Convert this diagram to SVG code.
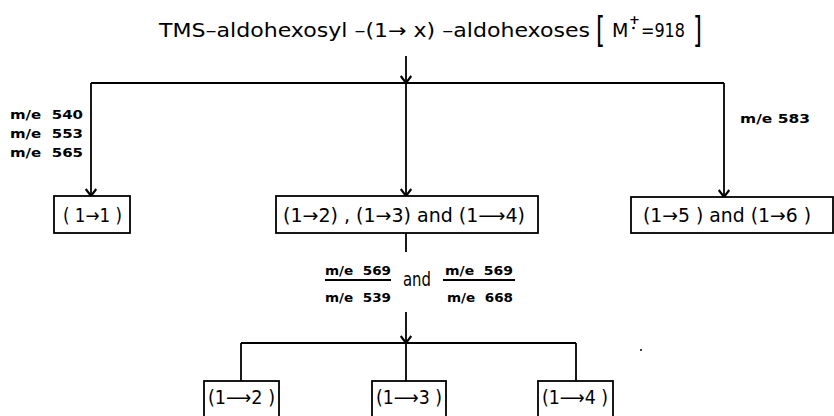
<svg xmlns="http://www.w3.org/2000/svg" width="834" height="416" viewBox="0 0 834 416">
<style>
text{font-family:"DejaVu Sans","Liberation Sans",sans-serif;fill:#000}
.t{font-size:19px}
.b{font-size:19px}
.m{font-size:13px;font-weight:bold;white-space:pre}
.br{font-size:36px}
.box{fill:#fff;stroke:#000;stroke-width:1.8}
.c{stroke:#000;stroke-width:1.8;fill:none}
</style>
<defs>
<marker id="ah" markerUnits="userSpaceOnUse" markerWidth="14" markerHeight="14" viewBox="-8 -6 10 12" refX="0" refY="0" orient="auto" overflow="visible">
<path d="M-6,-4.5 L0,0 L-6,4.5" fill="none" stroke="#000" stroke-width="1.8"/>
</marker>
</defs>
<g id="title">
<text class="t" x="159" y="37" textLength="431" lengthAdjust="spacingAndGlyphs">TMS–aldohexosyl –(1→ x) –aldohexoses</text>
<text class="br" x="596" y="42" textLength="9" lengthAdjust="spacingAndGlyphs">[</text>
<text class="t" x="612" y="37">M<tspan x="629" dy="-13" style="font-size:13px;font-weight:bold">+</tspan><tspan x="641" dy="13" textLength="44" lengthAdjust="spacingAndGlyphs">=918</tspan></text>
<circle cx="633.5" cy="28" r="1.3" fill="#000"/>
<text class="br" x="693" y="42" textLength="9" lengthAdjust="spacingAndGlyphs">]</text>
</g>
<g id="connectors">
<line class="c" x1="406" y1="56" x2="406" y2="83" marker-end="url(#ah)"/>
<line class="c" x1="91" y1="83" x2="724" y2="83"/>
<line class="c" x1="91" y1="83" x2="91" y2="196" marker-end="url(#ah)"/>
<line class="c" x1="406" y1="83" x2="406" y2="196" marker-end="url(#ah)"/>
<line class="c" x1="724" y1="83" x2="724" y2="197" marker-end="url(#ah)"/>
<line class="c" x1="406" y1="233" x2="406" y2="252"/>
<line class="c" x1="406" y1="312" x2="406" y2="343" marker-end="url(#ah)"/>
<line class="c" x1="241" y1="343" x2="576" y2="343"/>
<line class="c" x1="241" y1="343" x2="241" y2="381"/>
<line class="c" x1="406" y1="343" x2="406" y2="381"/>
<line class="c" x1="576" y1="343" x2="576" y2="381"/>
</g>
<g id="labels">
<text class="m" x="10" y="119" xml:space="preserve" textLength="73" lengthAdjust="spacingAndGlyphs">m/e  540</text>
<text class="m" x="10" y="138" xml:space="preserve" textLength="73" lengthAdjust="spacingAndGlyphs">m/e  553</text>
<text class="m" x="10" y="157" xml:space="preserve" textLength="73" lengthAdjust="spacingAndGlyphs">m/e  565</text>
<text class="m" x="740" y="123" textLength="70" lengthAdjust="spacingAndGlyphs">m/e 583</text>
<text class="m" x="325" y="275" xml:space="preserve" textLength="66" lengthAdjust="spacingAndGlyphs">m/e  569</text>
<line class="c" x1="325" y1="280" x2="391" y2="280" stroke-width="1.4"/>
<text class="m" x="325" y="302" xml:space="preserve" textLength="66" lengthAdjust="spacingAndGlyphs">m/e  539</text>
<text class="b" x="403" y="286" textLength="28" lengthAdjust="spacingAndGlyphs">and</text>
<text class="m" x="445" y="275" xml:space="preserve" textLength="68" lengthAdjust="spacingAndGlyphs">m/e  569</text>
<line class="c" x1="443" y1="280" x2="515" y2="280" stroke-width="1.4"/>
<text class="m" x="447" y="302" xml:space="preserve" textLength="66" lengthAdjust="spacingAndGlyphs">m/e  668</text>
<circle cx="641" cy="350" r="1" fill="#000"/>
</g>
<g id="n11">
<rect class="box" x="54" y="196" width="76" height="37"/>
<text class="b" x="63" y="222" textLength="59" lengthAdjust="spacingAndGlyphs">( 1→1 )</text>
</g>
<g id="n234">
<rect class="box" x="276" y="196" width="262" height="37"/>
<text class="b" x="283" y="222" textLength="242" lengthAdjust="spacingAndGlyphs">(1→2) , (1→3) and (1⟶4)</text>
</g>
<g id="n56">
<rect class="box" x="631" y="197" width="202" height="36"/>
<text class="b" x="643" y="222" textLength="168" lengthAdjust="spacingAndGlyphs">(1→5 ) and (1→6 )</text>
</g>
<g id="n12">
<rect class="box" x="204" y="381" width="75" height="40"/>
<text class="b" x="208" y="404" textLength="67" lengthAdjust="spacingAndGlyphs">(1⟶2 )</text>
</g>
<g id="n13">
<rect class="box" x="372" y="381" width="74" height="40"/>
<text class="b" x="376" y="404" textLength="66" lengthAdjust="spacingAndGlyphs">(1⟶3 )</text>
</g>
<g id="n14">
<rect class="box" x="538" y="381" width="75" height="40"/>
<text class="b" x="542" y="404" textLength="66" lengthAdjust="spacingAndGlyphs">(1⟶4 )</text>
</g>
</svg>
